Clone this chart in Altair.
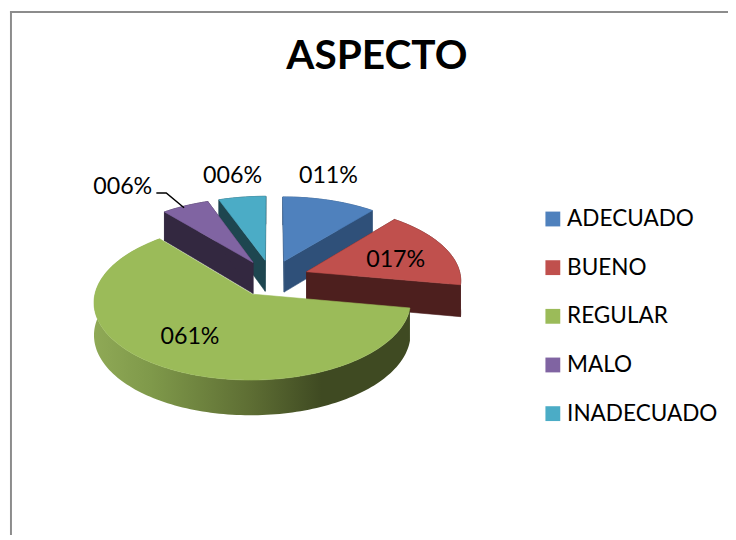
import math
import altair as alt
import pandas as pd

categories = ["ADECUADO", "BUENO", "REGULAR", "MALO", "INADECUADO"]
values = [11.1, 16.7, 61.1, 5.6, 5.6]
value_labels = ["011%", "017%", "061%", "006%", "006%"]
top_colors = ["#4f81bd", "#c0504d", "#9bbb59", "#8064a2", "#4bacc6"]
wall_colors = ["#2f5079", "#4d1f1e", "#3f4a22", "#332840", "#1e4650"]
label_x = [332, 400, 192, 124, 235]
label_y = [175, 260, 338, 186, 175]
draw_order = [0, 4, 3, 1, 2]
leader_x = [158, 168, 186]
leader_y = [192, 192, 207]
title_text = ["ASPECTO"]

CX, CY, R, EXPLODE, DEPTH = 274.5, 278.0, 156.0, 38.0, 32.0


def project(X, Y, z):
    px = CX + R * X * (1 - 0.1 * Y)
    py = CY - (76 * Y - 7.6 * Y * Y) + z * (DEPTH - 3 * Y)
    return px, py


def slice_faces(i):
    total = sum(values)
    a0 = sum(values[:i]) / total * 2 * math.pi
    a1 = sum(values[: i + 1]) / total * 2 * math.pi
    mid = (a0 + a1) / 2
    ox, oy = EXPLODE / R * math.sin(mid), EXPLODE / R * math.cos(mid)
    steps = max(6, int((a1 - a0) * 40))
    rim = [a0 + (a1 - a0) * k / steps for k in range(steps + 1)]
    pts = [(ox + math.sin(a), oy + math.cos(a)) for a in rim]
    apex = (ox, oy)
    top = [project(*apex, 0)] + [project(*p, 0) for p in pts]
    outer = [project(*p, 0) for p in pts] + [project(*p, 1) for p in reversed(pts)]
    cut0 = [project(*apex, 0), project(*pts[0], 0), project(*pts[0], 1), project(*apex, 1)]
    cut1 = [project(*apex, 0), project(*pts[-1], 0), project(*pts[-1], 1), project(*apex, 1)]
    return top, outer, cut0, cut1


rows, green_wall, green_top = [], [], []


def add(target, pid, poly, color):
    for s, (x, y) in enumerate(poly + [poly[0]]):
        target.append({"pid": pid, "seq": s, "x": x, "y": y, "col": color})


for i in draw_order:
    top, outer, cut0, cut1 = slice_faces(i)
    if categories[i] == "REGULAR":
        add(green_wall, "w", outer, wall_colors[i])
        add(green_top, "t", top, top_colors[i])
    else:
        add(rows, f"{i}o", outer, wall_colors[i])
        add(rows, f"{i}a", cut0, wall_colors[i])
        add(rows, f"{i}b", cut1, wall_colors[i])
        add(rows, f"{i}t", top, top_colors[i])

x_scale = alt.Scale(domain=[8, 736], range=[0, 728])
y_scale = alt.Scale(domain=[538, 8], range=[530, 0])
X = alt.X("x:Q", scale=x_scale, axis=None)
Y = alt.Y("y:Q", scale=y_scale, axis=None)


def polys(frame, **mark):
    return (
        alt.Chart(pd.DataFrame(frame))
        .mark_line(**mark)
        .encode(X, Y, detail="pid:N", order="seq:Q")
    )


faces = polys(rows, strokeWidth=0.6).encode(
    fill=alt.Fill("col:N", scale=None), stroke=alt.Stroke("col:N", scale=None)
)
wall_grad = alt.Gradient(
    gradient="linear",
    x1=0, x2=1, y1=0, y2=0,
    stops=[
        alt.GradientStop(offset=0.0, color="#8fa956"),
        alt.GradientStop(offset=0.18, color="#7f994a"),
        alt.GradientStop(offset=0.5, color="#5d6d33"),
        alt.GradientStop(offset=0.72, color="#3f4a22"),
        alt.GradientStop(offset=1.0, color="#3f4a22"),
    ],
)
green_side = polys(green_wall, fill=wall_grad, stroke="#4a5628", strokeWidth=0)
green_face = polys(green_top, fill=top_colors[2], stroke=top_colors[2], strokeWidth=0.6)

labels = (
    alt.Chart(pd.DataFrame({"x": label_x, "y": label_y, "t": value_labels}))
    .mark_text(font="Lato", fontSize=23.5, color="#000000", baseline="middle", align="center")
    .encode(X, Y, text="t:N")
)
title = (
    alt.Chart(pd.DataFrame({"x": [381], "y": [55], "t": title_text}))
    .mark_text(font="Lato", fontSize=41, fontWeight="bold", color="#000000",
               baseline="middle", align="center")
    .encode(X, Y, text="t:N")
)
leader = (
    alt.Chart(pd.DataFrame({"x": leader_x, "y": leader_y, "seq": range(len(leader_x))}))
    .mark_line(color="#000000", strokeWidth=1.5)
    .encode(X, Y, order="seq:Q")
)
border_top = (
    alt.Chart(pd.DataFrame({"x": [10], "x2": [736], "y": [9]}))
    .mark_rule(color="#8c8c8c", strokeWidth=2)
    .encode(X, alt.X2("x2:Q"), Y)
)
border_left = (
    alt.Chart(pd.DataFrame({"x": [11], "y": [8], "y2": [538]}))
    .mark_rule(color="#8c8c8c", strokeWidth=2)
    .encode(X, Y, alt.Y2("y2:Q"))
)
legend_layer = (
    alt.Chart(pd.DataFrame({"cat": categories, "x": [547] * 5, "y": [218] * 5}))
    .mark_square(size=1, opacity=0)
    .encode(
        X,
        Y,
        color=alt.Color(
            "cat:N",
            scale=alt.Scale(domain=categories, range=top_colors),
            sort=categories,
            legend=alt.Legend(
                title=None,
                orient="none",
                legendX=539.5,
                legendY=199,
                symbolType="square",
                symbolSize=225,
                symbolOpacity=1,
                symbolStrokeWidth=0,
                labelFont="Lato",
                labelFontSize=22.8,
                labelColor="#000000",
                labelOffset=3,
                rowPadding=25.2,
                labelLimit=200,
            ),
        ),
    )
)

chart = (
    alt.layer(border_top, border_left, faces, green_side, green_face, leader, labels, title, legend_layer)
    .resolve_scale(color="independent", fill="independent", stroke="independent")
    .properties(
        width=728,
        height=530,
        padding=0,
        autosize=alt.AutoSizeParams(type="none"),
    )
    .configure_view(stroke=None)
)

chart.save("out.html", embed_options={"renderer": "svg", "actions": False})
